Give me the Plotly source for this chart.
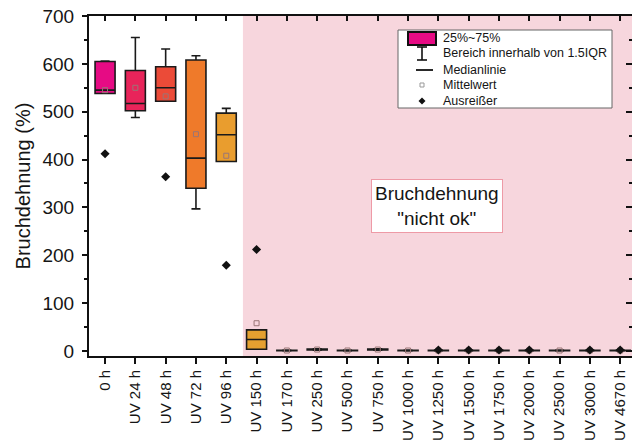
import plotly.graph_objects as go

# Categories (exposure time)
categories = ["0 h", "UV 24 h", "UV 48 h", "UV 72 h", "UV 96 h", "UV 150 h",
              "UV 170 h", "UV 250 h", "UV 500 h", "UV 750 h", "UV 1000 h",
              "UV 1250 h", "UV 1500 h", "UV 1750 h", "UV 2000 h", "UV 2500 h",
              "UV 3000 h", "UV 4670 h"]

# Box statistics, elongation at break (%)
q1_vals = [538, 502, 522, 340, 396, 3.5, 0.5, 2.0, 0.5, 2.0, 0.5, 0.5, 0.5, 0.5, 0.5, 0.5, 0.5, 0.5]
median_vals = [545, 517, 550, 403, 452, 24, 1.0, 3.0, 1.0, 3.0, 1.0, 1.0, 1.0, 1.0, 1.0, 1.0, 1.0, 1.0]
q3_vals = [605, 586, 594, 608, 497, 44, 1.5, 4.0, 1.5, 4.0, 1.5, 1.5, 1.5, 1.5, 1.5, 1.5, 1.5, 1.5]
lower_whisker = [538, 488, 522, 297, 396, 3.5, 0.3, 1.5, 0.3, 1.5, 0.3, 0.3, 0.3, 0.3, 0.3, 0.3, 0.3, 0.3]
upper_whisker = [606, 655, 631, 617, 507, 44, 2.0, 4.5, 2.0, 4.5, 2.0, 2.0, 2.0, 2.0, 2.0, 2.0, 2.0, 2.0]
mean_vals = [545, 550, 532, 453, 408, 58, 1.0, 3.0, 1.0, 3.0, 1.0, 1.0, 1.0, 1.0, 1.0, 1.0, 1.0, 1.0]

# Outliers
outlier_cats = ["0 h", "UV 48 h", "UV 96 h", "UV 150 h", "UV 1250 h", "UV 1500 h",
                "UV 1750 h", "UV 2000 h", "UV 3000 h", "UV 4670 h"]
outlier_vals = [412, 364, 179, 212, 2, 2, 2, 2, 2, 2]

# Box fill colours (magenta -> orange)
box_colors = ["#e60b84", "#e8245a", "#eb4b38", "#ef7a2a", "#e99d2e", "#e5a030",
              "#e2a032", "#dc9a30", "#e2a032", "#dc9a30", "#e2a032", "#e2a032",
              "#e2a032", "#e2a032", "#e2a032", "#e2a032", "#e2a032", "#e2a032"]

FONT = "Liberation Sans, Arial, sans-serif"
TXT = "#151515"
X_RANGE = [-0.53, 17.39]
Y_RANGE = [-10.5, 700]

fig = go.Figure()

for i, cat in enumerate(categories):
    fig.add_trace(go.Box(
        x=[cat], q1=[q1_vals[i]], median=[median_vals[i]], q3=[q3_vals[i]],
        lowerfence=[lower_whisker[i]], upperfence=[upper_whisker[i]],
        fillcolor=box_colors[i], line=dict(color="#1a1a1a", width=1.6),
        width=0.66, whiskerwidth=0.45, boxpoints=False, showlegend=False,
        hoverinfo="skip",
    ))

fig.add_trace(go.Scatter(
    x=categories, y=mean_vals, mode="markers", showlegend=False,
    marker=dict(symbol="square-open", size=5, color="#9a7676", line=dict(width=1)),
))
fig.add_trace(go.Scatter(
    x=outlier_cats, y=outlier_vals, mode="markers", showlegend=False,
    marker=dict(symbol="diamond", size=7, color="#111111"),
))
# helper trace so the mirrored top/right axes are drawn
fig.add_trace(go.Scatter(x=[None], y=[None], xaxis="x2", yaxis="y2",
                         showlegend=False, hoverinfo="skip"))

# "not ok" region
fig.add_shape(type="rect", xref="x", yref="paper", x0=4.55, x1=X_RANGE[1],
              y0=0, y1=1, fillcolor="#f7d6dd", line=dict(width=0), layer="below")


def px_x(px):
    return (px - 89) / 543


def px_y(py):
    return (356 - py) / 340


# Legend box
fig.add_shape(type="rect", xref="paper", yref="paper",
              x0=px_x(398), x1=px_x(612), y0=px_y(108), y1=px_y(30),
              fillcolor="white", line=dict(color="#666666", width=1))
fig.add_shape(type="rect", xref="paper", yref="paper",
              x0=px_x(408), x1=px_x(436), y0=px_y(45), y1=px_y(32),
              fillcolor="#e60b84", line=dict(color="#111111", width=2))
# whisker symbol
fig.add_shape(type="line", xref="paper", yref="paper",
              x0=px_x(422), x1=px_x(422), y0=px_y(60), y1=px_y(47),
              line=dict(color="#111111", width=1.6))
for yy in (47, 60):
    fig.add_shape(type="line", xref="paper", yref="paper",
                  x0=px_x(417), x1=px_x(427), y0=px_y(yy), y1=px_y(yy),
                  line=dict(color="#111111", width=1.6))
# median symbol
fig.add_shape(type="line", xref="paper", yref="paper",
              x0=px_x(416), x1=px_x(433), y0=px_y(70), y1=px_y(70),
              line=dict(color="#111111", width=1.8))
# mean symbol
fig.add_shape(type="rect", xref="paper", yref="paper",
              x0=px_x(420), x1=px_x(424), y0=px_y(87), y1=px_y(83),
              line=dict(color="#999999", width=1))
# outlier symbol
fig.add_shape(type="path", xref="paper", yref="paper",
              path=(f"M {px_x(422)} {px_y(97.5)} L {px_x(425.5)} {px_y(101)} "
                    f"L {px_x(422)} {px_y(104.5)} L {px_x(418.5)} {px_y(101)} Z"),
              fillcolor="#111111", line=dict(width=0))

legend_labels = ["25%~75%", "Bereich innerhalb von 1.5IQR", "Medianlinie",
                 "Mittelwert", "Ausreißer"]
legend_rows = [38, 53, 70, 85, 101]
for lab, yy in zip(legend_labels, legend_rows):
    fig.add_annotation(xref="paper", yref="paper", x=px_x(441), y=px_y(yy),
                       text=lab, showarrow=False, xanchor="left", yanchor="middle",
                       font=dict(family=FONT, size=12.5, color=TXT))

fig.add_annotation(xref="x", yref="y", x=10.97, y=304,
                   text="Bruchdehnung<br>\"nicht ok\"", showarrow=False,
                   font=dict(family=FONT, size=19, color=TXT),
                   bgcolor="white", bordercolor="#ee9aa6", borderwidth=1,
                   borderpad=3, align="center")

fig.update_layout(
    width=632, height=445,
    margin=dict(l=89, r=0, t=16, b=89),
    paper_bgcolor="white", plot_bgcolor="white",
    font=dict(family=FONT, color=TXT),
    showlegend=False,
    xaxis=dict(
        type="category", categoryorder="array", categoryarray=categories,
        range=X_RANGE, showgrid=False, zeroline=False,
        showline=True, linecolor="#111111", linewidth=2,
        ticks="outside", ticklen=6, tickwidth=2, tickcolor="#111111",
        tickangle=-90, tickfont=dict(family=FONT, size=15, color=TXT),
    ),
    xaxis2=dict(
        overlaying="x", side="top", anchor="y", range=X_RANGE,
        tickmode="array", tickvals=list(range(len(categories))),
        showticklabels=False, showgrid=False, zeroline=False,
        showline=True, linecolor="#111111", linewidth=2,
        ticks="inside", ticklen=5, tickwidth=2, tickcolor="#111111",
    ),
    yaxis=dict(
        range=Y_RANGE, dtick=100, tick0=0, showgrid=False, zeroline=False,
        showline=True, linecolor="#111111", linewidth=2,
        ticks="outside", ticklen=5, tickwidth=2, tickcolor="#111111",
        minor=dict(dtick=50, tick0=0, ticks="outside", ticklen=3, tickwidth=1.5,
                   tickcolor="#111111"),
        tickfont=dict(family=FONT, size=19, color=TXT),
        ticklabelstandoff=4,
        title=dict(text="Bruchdehnung (%)", font=dict(family=FONT, size=20, color=TXT),
                   standoff=6),
    ),
    yaxis2=dict(
        overlaying="y", side="right", anchor="x", range=Y_RANGE,
        dtick=100, tick0=0, showticklabels=False, showgrid=False, zeroline=False,
        showline=False,
        ticks="inside", ticklen=6, tickwidth=2, tickcolor="#111111",
        minor=dict(dtick=50, tick0=0, ticks="inside", ticklen=3, tickwidth=1.5,
                   tickcolor="#111111"),
    ),
)

fig.write_html("out.html")
